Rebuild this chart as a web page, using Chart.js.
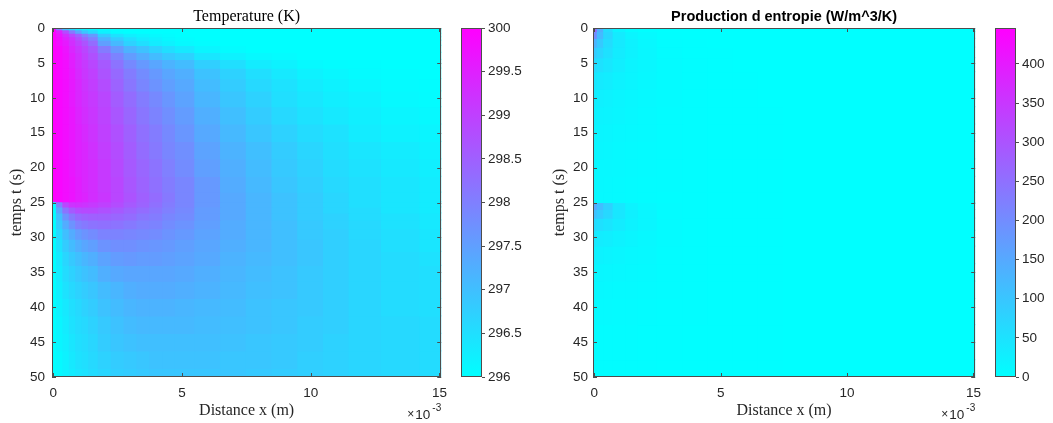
<!DOCTYPE html>
<html>
<head>
<meta charset="utf-8">
<script src="https://cdn.jsdelivr.net/npm/chart.js@4.4.1/dist/chart.umd.min.js"></script>
<style>
  html, body { margin: 0; padding: 0; background: #fff; }
  #wrap { position: relative; width: 1053px; height: 423px; overflow: hidden; }
  canvas { position: absolute; top: 0; }
</style>
</head>
<body>
<div id="wrap">
  <canvas id="tempMap" style="left:0px" width="455" height="423"></canvas>
  <canvas id="tempBar" style="left:455px" width="71" height="423"></canvas>
  <canvas id="entMap" style="left:526px" width="463" height="423"></canvas>
  <canvas id="entBar" style="left:989px" width="64" height="423"></canvas>
</div>
<script>
// temperature grid: distance nodes in 1e-3 m (axis shows the x10^-3 factor), time nodes in s
var tempX = [0, 0.25, 0.5, 0.75, 1, 1.25, 1.5, 2, 2.5, 3, 3.5, 4, 4.5, 5, 6, 7, 8, 9, 10, 11, 12, 13.5, 15];
var tempT = [0, 0.5, 1, 1.5, 2, 3, 4, 5, 6.5, 8, 10, 12.5, 15, 17.5, 20, 22.5, 24.5, 25.25, 26, 27, 28, 29.5, 31, 33, 35, 37.5, 40, 42.5, 45, 47.5, 50];

// temperature (K), one row per time node, columns follow tempX
var tempK = [
  [300, 298.0, 297.0, 296.6, 296.3, 296.2, 296.1, 296.0, 296, 296, 296, 296, 296, 296, 296, 296, 296, 296, 296, 296, 296, 296, 296],
  [300, 299.5, 298.8, 298.1, 297.4, 296.9, 296.6, 296.2, 296.05, 296, 296, 296, 296, 296, 296, 296, 296, 296, 296, 296, 296, 296, 296],
  [300, 299.7, 299.3, 298.9, 298.5, 298.0, 297.6, 296.8, 296.45, 296.25, 296.15, 296.1, 296.05, 296.0, 296, 296, 296, 296, 296, 296, 296, 296, 296],
  [300, 299.8, 299.5, 299.2, 298.8, 298.4, 298.0, 297.2, 296.8, 296.5, 296.3, 296.2, 296.1, 296.05, 296, 296, 296, 296, 296, 296, 296, 296, 296],
  [300, 299.8, 299.6, 299.3, 299.0, 298.7, 298.3, 297.5, 297.1, 296.7, 296.5, 296.3, 296.2, 296.1, 296.05, 296, 296, 296, 296, 296, 296, 296, 296],
  [300, 299.9, 299.7, 299.4, 299.15, 298.9, 298.6, 298.05, 297.6, 297.2, 296.95, 296.7, 296.5, 296.35, 296.15, 296.05, 296, 296, 296, 296, 296, 296, 296],
  [300, 299.9, 299.75, 299.5, 299.25, 299.0, 298.75, 298.35, 297.95, 297.55, 297.3, 297.05, 296.85, 296.7, 296.4, 296.2, 296.1, 296.05, 296, 296, 296, 296, 296],
  [300, 299.9, 299.8, 299.55, 299.3, 299.1, 298.9, 298.6, 298.2, 297.85, 297.6, 297.4, 297.2, 297.05, 296.75, 296.5, 296.3, 296.2, 296.1, 296.05, 296.03, 296, 296],
  [300, 299.9, 299.8, 299.6, 299.35, 299.15, 299.0, 298.7, 298.35, 298.05, 297.8, 297.6, 297.4, 297.25, 296.95, 296.7, 296.5, 296.35, 296.2, 296.12, 296.07, 296.03, 296],
  [300, 299.9, 299.8, 299.6, 299.4, 299.2, 299.05, 298.8, 298.45, 298.15, 297.9, 297.7, 297.5, 297.35, 297.05, 296.8, 296.6, 296.45, 296.3, 296.2, 296.12, 296.06, 296.03],
  [300, 299.9, 299.8, 299.6, 299.4, 299.25, 299.1, 298.9, 298.55, 298.3, 298.05, 297.85, 297.65, 297.45, 297.15, 296.9, 296.7, 296.5, 296.38, 296.27, 296.2, 296.1, 296.05],
  [300, 299.9, 299.8, 299.65, 299.45, 299.3, 299.15, 298.95, 298.65, 298.4, 298.15, 297.95, 297.75, 297.55, 297.25, 297.0, 296.8, 296.6, 296.45, 296.35, 296.25, 296.15, 296.1],
  [300, 299.9, 299.8, 299.65, 299.5, 299.35, 299.2, 299.0, 298.75, 298.5, 298.25, 298.05, 297.85, 297.65, 297.35, 297.1, 296.9, 296.7, 296.55, 296.45, 296.3, 296.2, 296.15],
  [300, 299.9, 299.8, 299.65, 299.5, 299.4, 299.25, 299.05, 298.8, 298.55, 298.3, 298.1, 297.9, 297.75, 297.45, 297.2, 297.0, 296.8, 296.65, 296.5, 296.4, 296.3, 296.2],
  [300, 299.9, 299.8, 299.65, 299.5, 299.4, 299.3, 299.1, 298.85, 298.6, 298.4, 298.2, 298.0, 297.8, 297.5, 297.25, 297.05, 296.85, 296.7, 296.55, 296.45, 296.35, 296.25],
  [300, 299.9, 299.8, 299.7, 299.55, 299.4, 299.3, 299.1, 298.9, 298.65, 298.45, 298.25, 298.05, 297.9, 297.6, 297.3, 297.1, 296.9, 296.75, 296.6, 296.5, 296.4, 296.3],
  [300, 299.9, 299.8, 299.7, 299.55, 299.45, 299.3, 299.15, 298.9, 298.7, 298.5, 298.3, 298.1, 297.9, 297.6, 297.35, 297.15, 296.95, 296.8, 296.65, 296.5, 296.4, 296.3],
  [296, 298.0, 298.9, 299.2, 299.25, 299.2, 299.1, 299.0, 298.8, 298.6, 298.45, 298.25, 298.05, 297.9, 297.6, 297.35, 297.15, 296.95, 296.8, 296.65, 296.5, 296.4, 296.3],
  [296, 297.4, 298.2, 298.6, 298.8, 298.85, 298.85, 298.75, 298.6, 298.45, 298.3, 298.15, 298.0, 297.85, 297.55, 297.35, 297.15, 296.95, 296.8, 296.65, 296.55, 296.4, 296.3],
  [296, 297.0, 297.7, 298.1, 298.35, 298.45, 298.5, 298.5, 298.4, 298.3, 298.15, 298.05, 297.9, 297.8, 297.55, 297.35, 297.15, 296.95, 296.8, 296.7, 296.55, 296.45, 296.35],
  [296, 296.8, 297.3, 297.7, 298.0, 298.1, 298.2, 298.25, 298.2, 298.1, 298.0, 297.95, 297.8, 297.7, 297.5, 297.3, 297.15, 297.0, 296.85, 296.7, 296.6, 296.45, 296.35],
  [296, 296.6, 297.0, 297.3, 297.55, 297.7, 297.8, 297.95, 297.95, 297.9, 297.85, 297.8, 297.7, 297.6, 297.45, 297.3, 297.15, 297.0, 296.85, 296.75, 296.6, 296.5, 296.4],
  [296, 296.45, 296.8, 297.05, 297.25, 297.4, 297.5, 297.7, 297.75, 297.75, 297.7, 297.65, 297.6, 297.5, 297.4, 297.25, 297.15, 297.0, 296.9, 296.75, 296.65, 296.5, 296.4],
  [296, 296.35, 296.65, 296.85, 297.0, 297.15, 297.25, 297.45, 297.55, 297.6, 297.55, 297.55, 297.5, 297.45, 297.35, 297.2, 297.1, 297.0, 296.9, 296.75, 296.65, 296.55, 296.45],
  [296, 296.3, 296.55, 296.7, 296.85, 296.95, 297.05, 297.25, 297.35, 297.4, 297.4, 297.4, 297.4, 297.35, 297.25, 297.15, 297.05, 296.95, 296.85, 296.75, 296.65, 296.55, 296.5],
  [296, 296.25, 296.45, 296.6, 296.7, 296.8, 296.9, 297.05, 297.15, 297.25, 297.3, 297.3, 297.3, 297.25, 297.2, 297.1, 297.0, 296.95, 296.85, 296.75, 296.65, 296.55, 296.5],
  [296, 296.2, 296.35, 296.5, 296.6, 296.7, 296.8, 296.95, 297.05, 297.15, 297.2, 297.2, 297.2, 297.15, 297.1, 297.05, 296.95, 296.9, 296.85, 296.75, 296.65, 296.55, 296.5],
  [296, 296.15, 296.3, 296.45, 296.55, 296.6, 296.7, 296.85, 296.95, 297.05, 297.1, 297.1, 297.1, 297.1, 297.05, 297.0, 296.95, 296.9, 296.8, 296.75, 296.65, 296.6, 296.55],
  [296, 296.15, 296.25, 296.4, 296.5, 296.55, 296.65, 296.8, 296.9, 296.95, 297.0, 297.0, 297.0, 297.0, 297.0, 296.95, 296.9, 296.85, 296.8, 296.7, 296.65, 296.6, 296.55],
  [296, 296.1, 296.2, 296.35, 296.45, 296.5, 296.6, 296.7, 296.8, 296.85, 296.9, 296.95, 296.95, 296.95, 296.95, 296.9, 296.9, 296.85, 296.75, 296.7, 296.65, 296.6, 296.55],
  [296, 296.1, 296.2, 296.3, 296.4, 296.45, 296.55, 296.65, 296.75, 296.8, 296.85, 296.9, 296.9, 296.9, 296.9, 296.9, 296.85, 296.8, 296.75, 296.7, 296.65, 296.6, 296.55]
];

// entropy grid (coarser, the field is almost flat)
var entX = [0, 0.25, 0.5, 1, 1.5, 2, 3, 4, 5, 6, 7, 8, 10, 12, 15];
var entT = [0, 1, 2, 3.5, 5, 7.5, 10, 12.5, 15, 17.5, 20, 22.5, 24.5, 25.5, 26.5, 28, 30, 32.5, 35, 37.5, 40, 45, 50];

// entropy production (W/m^3/K), one row per entT node, columns follow entX
var entropyProd = [
  [260, 140, 60, 20, 6, 2, 0, 0, 0, 0, 0, 0, 0, 0, 0],
  [200, 120, 70, 35, 18, 8, 2, 0.5, 0, 0, 0, 0, 0, 0, 0],
  [130, 95, 62, 36, 22, 12, 4, 1, 0.3, 0, 0, 0, 0, 0, 0],
  [90, 72, 52, 33, 22, 14, 6, 2.5, 1, 0.3, 0, 0, 0, 0, 0],
  [62, 52, 42, 29, 20, 14, 7, 3.5, 1.5, 0.6, 0.2, 0, 0, 0, 0],
  [42, 37, 31, 23, 17, 12, 7, 4, 2, 1, 0.5, 0.2, 0, 0, 0],
  [30, 27, 23, 18, 14, 10.5, 6.5, 4, 2.3, 1.3, 0.7, 0.4, 0.1, 0, 0],
  [23, 21, 18.5, 15, 12, 9, 6, 4, 2.5, 1.5, 0.9, 0.5, 0.2, 0.05, 0],
  [19, 17.5, 15.5, 12.5, 10, 8, 5.5, 3.8, 2.5, 1.6, 1, 0.6, 0.25, 0.1, 0],
  [16, 15, 13.5, 11, 9, 7.2, 5, 3.6, 2.5, 1.7, 1.1, 0.7, 0.3, 0.1, 0],
  [14, 13, 12, 10, 8.2, 6.6, 4.7, 3.4, 2.4, 1.7, 1.2, 0.8, 0.35, 0.15, 0.05],
  [12.5, 11.7, 10.8, 9, 7.5, 6.1, 4.4, 3.2, 2.3, 1.7, 1.2, 0.8, 0.4, 0.15, 0.05],
  [11.5, 10.8, 10, 8.5, 7, 5.8, 4.2, 3.1, 2.3, 1.7, 1.2, 0.85, 0.4, 0.2, 0.05],
  [150, 115, 80, 42, 21, 11, 4.8, 3.2, 2.3, 1.7, 1.2, 0.85, 0.4, 0.2, 0.05],
  [105, 88, 68, 42, 26, 15, 6, 3.4, 2.3, 1.7, 1.2, 0.85, 0.4, 0.2, 0.05],
  [62, 55, 46, 33, 23, 15, 7, 3.8, 2.4, 1.7, 1.2, 0.85, 0.4, 0.2, 0.05],
  [38, 34, 30, 23, 18, 13, 6.8, 4, 2.5, 1.7, 1.2, 0.85, 0.4, 0.2, 0.05],
  [24, 22, 20, 16, 13, 10, 6, 3.8, 2.5, 1.7, 1.2, 0.85, 0.4, 0.2, 0.05],
  [16, 15, 14, 12, 10, 8, 5.2, 3.5, 2.4, 1.7, 1.2, 0.85, 0.4, 0.2, 0.05],
  [12, 11.5, 10.5, 9.2, 8, 6.6, 4.6, 3.2, 2.3, 1.6, 1.2, 0.85, 0.4, 0.2, 0.05],
  [9, 8.7, 8.2, 7.3, 6.4, 5.5, 4, 2.9, 2.1, 1.5, 1.1, 0.8, 0.4, 0.2, 0.05],
  [6, 5.8, 5.5, 5, 4.6, 4.1, 3.2, 2.4, 1.8, 1.3, 1, 0.75, 0.4, 0.2, 0.05],
  [4.2, 4.1, 4, 3.7, 3.4, 3.1, 2.5, 2, 1.5, 1.1, 0.9, 0.7, 0.4, 0.2, 0.05]
];

// colour limits of the two colorbars
var tempLimits = [296, 300];
var entropyLimits = [0, 446];

var SANS = '"Liberation Sans", Arial, sans-serif';
var SERIF = '"Liberation Serif", "Times New Roman", serif';
var TEXT = '#262626';
var EDGE = '#4d4d4d';
var tickFont = { family: SANS, size: 13.5 };

Chart.defaults.font.family = SANS;

// MATLAB "cool" colormap
function coolColor(v, lim) {
  var f = (v - lim[0]) / (lim[1] - lim[0]);
  f = Math.max(0, Math.min(1, f));
  return 'rgb(' + Math.round(255 * f) + ',' + Math.round(255 * (1 - f)) + ',255)';
}

// cell borders halfway between nodes
function cellEdges(nodes) {
  var e = [];
  var n = nodes.length;
  e.push(nodes[0] - (nodes[1] - nodes[0]) / 2);
  for (var i = 1; i < n; i++) e.push((nodes[i - 1] + nodes[i]) / 2);
  e.push(nodes[n - 1] + (nodes[n - 1] - nodes[n - 2]) / 2);
  return e;
}

function shortNum(v) { return String(+v.toFixed(3)); }

// one floating-bar dataset per time row, all in the same stack group
// so each bar takes the full 'flex' width between its neighbours
function heatDatasets(xs, ts, grid, lim) {
  var tEdges = cellEdges(ts);
  return ts.map(function (t, i) {
    return {
      label: 't = ' + t,
      stack: 'cells',
      data: xs.map(function (x) { return { x: x, y: [tEdges[i], tEdges[i + 1]] }; }),
      backgroundColor: grid[i].map(function (v) { return coolColor(v, lim); }),
      borderWidth: 0,
      barThickness: 'flex',
      categoryPercentage: 1,
      barPercentage: 1,
      inflateAmount: 0.6,
      clip: 0
    };
  });
}

// box with inward ticks on all sides
var plotFrame = {
  id: 'plotFrame',
  afterDatasetsDraw: function (chart) {
    var ctx = chart.ctx, a = chart.chartArea, sx = chart.scales.x, sy = chart.scales.y;
    ctx.save();
    ctx.strokeStyle = EDGE;
    ctx.lineWidth = 1;
    ctx.beginPath();
    sx.ticks.forEach(function (t) {
      var p = Math.round(sx.getPixelForValue(t.value)) + 0.5;
      ctx.moveTo(p, a.top); ctx.lineTo(p, a.top + 4);
      ctx.moveTo(p, a.bottom); ctx.lineTo(p, a.bottom - 4);
    });
    sy.ticks.forEach(function (t) {
      var p = Math.round(sy.getPixelForValue(t.value)) + 0.5;
      ctx.moveTo(a.left, p); ctx.lineTo(a.left + 4, p);
      ctx.moveTo(a.right, p); ctx.lineTo(a.right - 4, p);
    });
    ctx.stroke();
    ctx.strokeRect(Math.round(a.left) + 0.5, Math.round(a.top) + 0.5,
      Math.round(a.right - a.left) - 1, Math.round(a.bottom - a.top) - 1);
    ctx.restore();
  },
  afterDraw: function (chart) {
    // x10^-3 factor under the x axis
    var ctx = chart.ctx, a = chart.chartArea;
    ctx.save();
    ctx.fillStyle = TEXT;
    ctx.textAlign = 'right';
    ctx.textBaseline = 'alphabetic';
    ctx.font = '10px ' + SANS;
    var supW = ctx.measureText('-3').width;
    ctx.fillText('-3', a.right, a.bottom + 34);
    ctx.font = '13.5px ' + SANS;
    var x10 = a.right - supW - 2;
    ctx.fillText('10', x10, a.bottom + 42);
    var tenW = ctx.measureText('10').width;
    ctx.font = '12px ' + SANS;
    ctx.fillText('\u00d7', x10 - tenW - 1, a.bottom + 41);
    ctx.restore();
  }
};

var barFrame = {
  id: 'barFrame',
  afterDatasetsDraw: function (chart) {
    var ctx = chart.ctx, a = chart.chartArea;
    ctx.save();
    ctx.strokeStyle = EDGE;
    ctx.lineWidth = 1;
    ctx.strokeRect(Math.round(a.left) + 0.5, Math.round(a.top) + 0.5,
      Math.round(a.right - a.left) - 1, Math.round(a.bottom - a.top) - 1);
    ctx.restore();
  }
};

function heatmap(id, xs, ts, grid, lim, title, yAxisWidth, yTitlePad, yTickPad, rightPad) {
  return new Chart(document.getElementById(id), {
    type: 'bar',
    data: { datasets: heatDatasets(xs, ts, grid, lim) },
    options: {
      responsive: false,
      animation: false,
      devicePixelRatio: 1,
      events: [],
      layout: { padding: { left: 0, right: rightPad, top: 0, bottom: 0 } },
      plugins: { legend: { display: false }, tooltip: { enabled: false }, title: title },
      scales: {
        x: {
          type: 'linear', min: -0.05, max: 15.07, offset: false,
          grid: { display: false, drawTicks: false }, border: { display: false },
          ticks: { stepSize: 5, includeBounds: false, padding: 8, color: TEXT, font: tickFont, maxRotation: 0, callback: shortNum },
          title: { display: true, text: 'Distance x (m)', color: TEXT, font: { family: SERIF, size: 16 }, padding: { top: 0, bottom: 3 } },
          afterFit: function (s) { s.height = 46; }
        },
        y: {
          type: 'linear', min: 0, max: 50, reverse: true, stacked: false,
          grid: { display: false, drawTicks: false }, border: { display: false },
          ticks: { stepSize: 5, includeBounds: false, padding: yTickPad, color: TEXT, font: tickFont, callback: shortNum },
          title: { display: true, text: 'temps t (s)', color: TEXT, font: { family: SERIF, size: 16 }, padding: { top: yTitlePad, bottom: 0 } },
          afterFit: function (s) { s.width = yAxisWidth; }
        }
      }
    },
    plugins: [plotFrame]
  });
}

function colorbar(id, lim, step, axisWidth) {
  return new Chart(document.getElementById(id), {
    type: 'bar',
    data: {
      labels: [''],
      datasets: [{
        data: [lim],
        borderWidth: 0,
        barPercentage: 1,
        categoryPercentage: 1,
        backgroundColor: function (c) {
          var a = c.chart.chartArea;
          if (!a) return '#00ffff';
          var g = c.chart.ctx.createLinearGradient(0, a.bottom, 0, a.top);
          g.addColorStop(0, coolColor(lim[0], lim));
          g.addColorStop(1, coolColor(lim[1], lim));
          return g;
        }
      }]
    },
    options: {
      responsive: false,
      animation: false,
      devicePixelRatio: 1,
      events: [],
      layout: { padding: { left: 6, right: 0, top: 28, bottom: 46 } },
      plugins: { legend: { display: false }, tooltip: { enabled: false } },
      scales: {
        x: { display: false },
        y: {
          position: 'right', min: lim[0], max: lim[1],
          grid: { drawOnChartArea: false, tickLength: 3, color: EDGE },
          border: { display: false },
          ticks: { stepSize: step, includeBounds: false, padding: 3, color: TEXT, font: tickFont, callback: shortNum },
          afterFit: function (s) { s.width = axisWidth; }
        }
      }
    },
    plugins: [barFrame]
  });
}

heatmap('tempMap', tempX, tempT, tempK, tempLimits, {
  display: true, text: 'Temperature (K)', fullSize: false, color: '#000',
  font: { family: SERIF, size: 16, weight: 'normal' }, padding: { top: 7, bottom: 1.8 }
}, 52, 7.4, 7, 11);
colorbar('tempBar', tempLimits, 0.5, 44);

heatmap('entMap', entX, entT, entropyProd, entropyLimits, {
  display: true, text: 'Production d entropie (W/m^3/K)', fullSize: false, color: '#000',
  font: { family: SANS, size: 14.5, weight: 'bold' }, padding: { top: 8.6, bottom: 2 }
}, 67, 24.4, 5, 10);
colorbar('entBar', entropyLimits, 50, 37);
</script>
</body>
</html>
